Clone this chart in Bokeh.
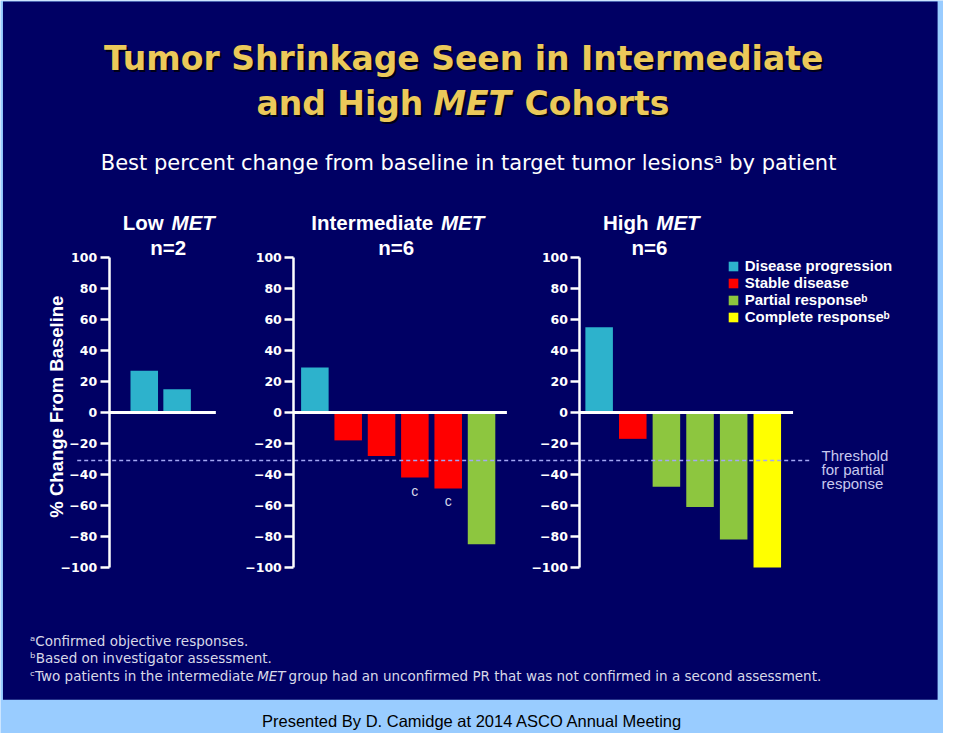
from bokeh.plotting import figure
from bokeh.models import Range1d, LinearAxis, FixedTicker, Legend, LegendItem, ColumnDataSource
from bokeh.core.properties import value
from bokeh.embed import file_html
from bokeh.resources import INLINE
import math

# ---------------- data ----------------
panel_names = ["Low", "Intermediate", "High"]
panel_n = ["n=2", "n=6", "n=6"]

low_change = [27, 15]
low_response = ["Disease progression", "Disease progression"]

intermediate_change = [29, -18, -28, -42, -49, -85]
intermediate_response = ["Disease progression", "Stable disease", "Stable disease",
                         "Stable disease", "Stable disease", "Partial responseᵇ"]
intermediate_unconfirmed = ["", "", "", "c", "c", ""]

high_change = [55, -17, -48, -61, -82, -100]
high_response = ["Disease progression", "Stable disease", "Partial responseᵇ",
                 "Partial responseᵇ", "Partial responseᵇ", "Complete responseᵇ"]

categories = ["Disease progression", "Stable disease", "Partial responseᵇ", "Complete responseᵇ"]
category_colors = ["#2DB2CC", "#FF0000", "#8DC63F", "#FFFF00"]

y_ticks = [-100, -80, -60, -40, -20, 0, 20, 40, 60, 80, 100]
y_tick_labels = ["−100", "−80", "−60", "−40", "−20", "0", "20", "40", "60", "80", "100"]
threshold = -31

title_1 = "Tumor Shrinkage Seen in Intermediate"
subtitle = "Best percent change from baseline in target tumor lesionsᵃ by patient"
y_label = "% Change From Baseline"
threshold_text = ["Threshold", "for partial", "response"]
footnotes = ["ᵃConfirmed objective responses.", "ᵇBased on investigator assessment."]
caption = "Presented By D. Camidge at 2014 ASCO Annual Meeting"

# ---------------- layout (reference pixel frame) ----------------
W, H = 943, 733
REF_W, REF_H = 959, 749
ZERO_PX, PX_PER_UNIT = 421.0, 1.583
SX, SY = W / REF_W, H / REF_H


def Y(py):
    return (ZERO_PX - py) / PX_PER_UNIT


p = figure(width=W, height=H, x_range=Range1d(0, REF_W), y_range=Range1d(Y(REF_H), Y(0)),
           x_axis_type=None, y_axis_type=None, toolbar_location=None, output_backend="svg",
           min_border=0, background_fill_color="#99CCFF", border_fill_color="#99CCFF",
           outline_line_color=None)

# navy slide
p.quad(left=[2.5], right=[953], top=[Y(1)], bottom=[Y(714.5)], fill_color="#000064", line_color=None)

# bars
groups = [(low_change, low_response), (intermediate_change, intermediate_response),
          (high_change, high_response)]
first_center = [146.2, 319.7, 608.8]
bar_step = [33.4, 33.9, 34.2]
axis_x = [110.5, 298.3, 589.3]
zero_end = [219, 515, 806]

xs, tops, cats, cols = [], [], [], []
color_of = dict(zip(categories, category_colors))
for g, (vals, resp) in enumerate(groups):
    for i, (v, r) in enumerate(zip(vals, resp)):
        xs.append(first_center[g] + i * bar_step[g])
        tops.append(v)
        cats.append(r)
        cols.append(color_of[r])

src = ColumnDataSource(dict(x=xs, top=tops, cat=cats, color=cols))
bars = p.vbar(x="x", top="top", bottom=0, width=28, fill_color="color", line_color=None, source=src)

# zero baselines
p.segment(x0=axis_x, y0=[0, 0, 0], x1=zero_end, y1=[0, 0, 0], line_color="white", line_width=3)

# threshold dashed line
p.segment(x0=[78], y0=[threshold], x1=[823], y1=[threshold], line_color="#A4A8F4",
          line_width=1.5, line_dash="4 3")

# axes
for ax_x in axis_x:
    ax = LinearAxis(fixed_location=ax_x, bounds=(y_ticks[0], y_ticks[-1]),
                    ticker=FixedTicker(ticks=y_ticks, minor_ticks=[]),
                    major_label_overrides={float(t): l for t, l in zip(y_ticks, y_tick_labels)})
    ax.axis_line_color = "white"
    ax.axis_line_width = 2.5
    ax.major_tick_line_color = "white"
    ax.major_tick_line_width = 2.5
    ax.major_tick_out = 9
    ax.major_tick_in = 0
    ax.minor_tick_out = 0
    ax.major_label_standoff = 3
    ax.major_label_text_color = "white"
    ax.major_label_text_font = "DejaVu Sans"
    ax.major_label_text_font_style = "bold"
    ax.major_label_text_font_size = "12.5px"
    p.add_layout(ax, "left")

# unconfirmed "c" marks
int_x = [first_center[1] + i * bar_step[1] for i in range(len(intermediate_change))]
cx = [x for x, c in zip(int_x, intermediate_unconfirmed) if c]
cy = [v for v, c in zip(intermediate_change, intermediate_unconfirmed) if c]
ct = [c for c in intermediate_unconfirmed if c]
p.text(x=cx, y=cy, text=ct, y_offset=5, text_align="center", text_baseline="top",
       text_font=value("Liberation Sans"), text_font_size="14px", text_color="#D8D8E8")

# legend
items = []
for c in categories:
    items.append(LegendItem(label=c, renderers=[bars], index=cats.index(c)))
row_h = 17.7
legend_top_ref = 261.5
vx = 739 * SX
vy = H - (legend_top_ref + 4 * row_h) * SY
legend = Legend(items=items, location=(vx, vy), orientation="vertical", padding=0, margin=0,
                spacing=0, glyph_width=12, glyph_height=12, label_standoff=6,
                label_height=int(round(row_h * SY)), label_text_font="Liberation Sans",
                label_text_font_style="bold", label_text_font_size="15px",
                label_text_color="white", background_fill_alpha=0, border_line_alpha=0)
p.add_layout(legend)

# title with drop shadow
def title_text(x, y, t, align, style, size, font, color, shadow=True):
    if shadow:
        p.text(x=[x], y=[y], text=[t], x_offset=2, y_offset=2, text_align=align,
               text_baseline="alphabetic", text_font=value(font), text_font_style=style,
               text_font_size=size, text_color="#000018")
    p.text(x=[x], y=[y], text=[t], text_align=align, text_baseline="alphabetic",
           text_font=value(font), text_font_style=style, text_font_size=size, text_color=color)

GOLD = "#EBC95A"
title_text(471, Y(59), title_1, "center", "bold", "33px", "DejaVu Sans", GOLD)
title_text(430, Y(105), "and High", "right", "bold", "33px", "DejaVu Sans", GOLD)
title_text(440, Y(105), "MET", "left", "bold italic", "33px", "DejaVu Sans", GOLD)
title_text(533, Y(105), "Cohorts", "left", "bold", "33px", "DejaVu Sans", GOLD)

# subtitle
p.text(x=[476], y=[Y(166.5)], text=[subtitle], text_align="center", text_baseline="alphabetic",
       text_font=value("DejaVu Sans"), text_font_size="21px", text_color="white")

# panel titles
name_right = [166, 440, 659]
met_left = [174, 448, 667]
n_center = [170.5, 402.5, 660]
for g in range(3):
    p.text(x=[name_right[g]], y=[Y(227)], text=[panel_names[g]], text_align="right",
           text_baseline="alphabetic", text_font=value("Liberation Sans"),
           text_font_style="bold", text_font_size="20.5px", text_color="white")
    p.text(x=[met_left[g]], y=[Y(227)], text=["MET"], text_align="left",
           text_baseline="alphabetic", text_font=value("Liberation Sans"),
           text_font_style="bold italic", text_font_size="20.5px", text_color="white")
    p.text(x=[n_center[g]], y=[Y(252)], text=[panel_n[g]], text_align="center",
           text_baseline="alphabetic", text_font=value("Liberation Sans"),
           text_font_style="bold", text_font_size="20.5px", text_color="white")

# y-axis label
p.text(x=[57], y=[Y(415)], text=[y_label], angle=math.pi / 2, text_align="center",
       text_baseline="middle", text_font=value("Liberation Sans"), text_font_style="bold",
       text_font_size="18.5px", text_color="white")

# threshold text
p.text(x=[835, 835, 835], y=[Y(465), Y(479.5), Y(494)], text=threshold_text, text_align="left",
       text_baseline="alphabetic", text_font=value("Liberation Sans"), text_font_size="15px",
       text_color="#C8C8EE")

# footnotes
FN_FONT = value("DejaVu Sans")
FN_COLOR = "#D8D8E8"
p.text(x=[30, 30], y=[Y(654), Y(671.7)], text=footnotes, text_align="left",
       text_baseline="alphabetic", text_font=FN_FONT, text_font_size="13.5px", text_color=FN_COLOR)
p.text(x=[30], y=[Y(690)], text=["ᶜTwo patients in the intermediate"], text_align="left",
       text_baseline="alphabetic", text_font=FN_FONT, text_font_size="13.5px", text_color=FN_COLOR)
p.text(x=[261], y=[Y(690)], text=["MET"], text_align="left", text_baseline="alphabetic",
       text_font=FN_FONT, text_font_style="italic", text_font_size="13.5px", text_color=FN_COLOR)
p.text(x=[293], y=[Y(690)],
       text=["group had an unconfirmed PR that was not confirmed in a second assessment."],
       text_align="left", text_baseline="alphabetic", text_font=FN_FONT,
       text_font_size="13.5px", text_color=FN_COLOR)

# caption
p.text(x=[480], y=[Y(736)], text=[caption], text_align="center", text_baseline="alphabetic",
       text_font=value("Liberation Sans"), text_font_size="16.5px", text_color="black")

open("out.html", "w").write(file_html(p, INLINE))
